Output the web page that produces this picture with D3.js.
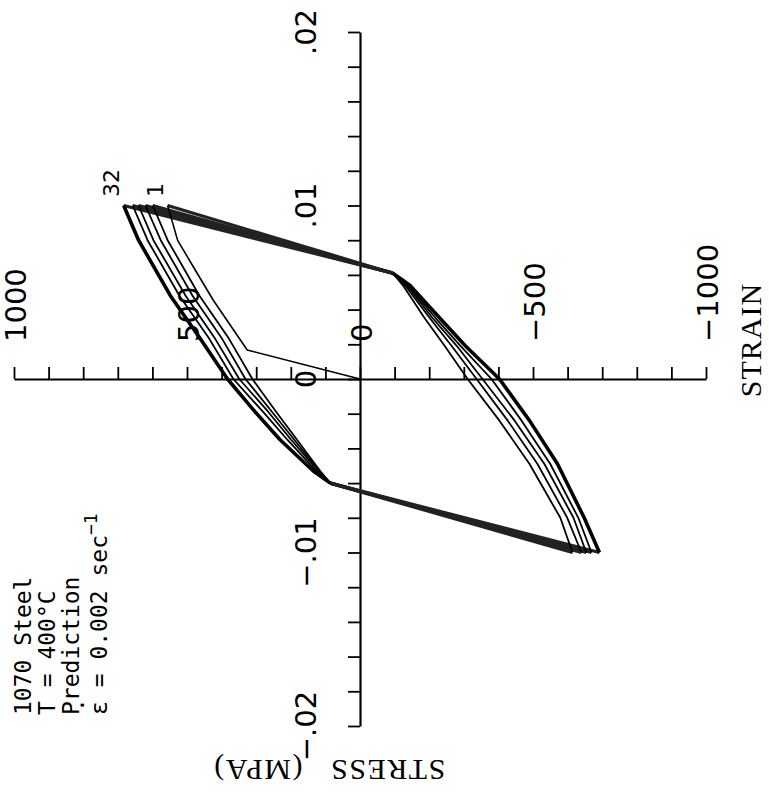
<!DOCTYPE html>
<html>
<head>
<meta charset="utf-8">
<script src="https://cdn.jsdelivr.net/npm/d3@7"></script>
<style>
  body { margin: 0; background: #fff; }
  svg { display: block; }
  .axis path, .axis line { stroke: #000; }
  .axis .domain { stroke-width: 2.2; }
  .axis .tick line { stroke-width: 1.8; }
</style>
</head>
<body>
<div id="vis"></div>
<script>
//Frame constants (the chart is drawn turned 90 degrees, like the scan)
const FRAME_WIDTH = 769;
const FRAME_HEIGHT = 792;

//Tick values and their labels
const STRAIN_TICKS = [0.02, 0.018, 0.016, 0.014, 0.012, 0.01, 0.008, 0.006, 0.004, 0.002, 0,
                      -0.002, -0.004, -0.006, -0.008, -0.01, -0.012, -0.014, -0.016, -0.018, -0.02];
const STRAIN_LABEL_VALUES = [0.02, 0.01, 0, -0.01, -0.02];
const STRAIN_LABELS = [".02", ".01", "0", "\u2212.01", "\u2212.02"];
const STRESS_TICKS = [1000, 900, 800, 700, 600, 500, 400, 300, 200, 100, 0,
                      -100, -200, -300, -400, -500, -600, -700, -800, -900, -1000];
const STRESS_LABEL_VALUES = [1000, 500, 0, -500, -1000];
const STRESS_LABELS = ["1000", "500", "0", "\u2212500", "\u22121000"];

//First loading of cycle 1 (strain, stress MPa)
const INITIAL_STRAIN = [0, 0.00167, 0.00454, 0.00644, 0.00799, 0.01];
const INITIAL_STRESS = [0, 326, 424, 481, 527, 556];

//Tension reloading branches, inner cycle first, cycle 32 last
const RELOAD_STRAIN = [-0.006, -0.0053, -0.0035, -0.0019, 0, 0.0023, 0.0048, 0.008, 0.01];
const RELOAD_STRESS = [
  [86, 115, 182, 242, 311, 378, 464, 556, 599],
  [86, 118, 190, 254, 331, 398, 484, 576, 620],
  [86, 121, 199, 265, 349, 418, 504, 597, 640],
  [86, 127, 210, 280, 366, 435, 522, 614, 657],
  [86, 135, 231, 303, 383, 461, 548, 640, 683]
];

//Compression branches, cycle 1 first, cycle 32 last
const COMP_STRAIN = [0.0061, 0.0054, 0.0035, 0.0019, 0, -0.0024, -0.0049, -0.008, -0.01];
const COMP_STRESS = [
  [-95, -124, -187, -245, -311, -403, -490, -579, -614],
  [-95, -130, -202, -265, -337, -427, -513, -599, -640],
  [-95, -135, -210, -280, -354, -447, -533, -617, -654],
  [-95, -138, -219, -291, -380, -467, -550, -631, -669],
  [-95, -144, -231, -305, -403, -490, -571, -648, -692]
];

const NOTES = ["1070 Steel", "T = 400\u00B0C", "Prediction"];

//Create frame
const FRAME = d3.select("#vis")
                  .append("svg")
                    .attr("width", FRAME_WIDTH)
                    .attr("height", FRAME_HEIGHT);

//Scales: stress runs right to left, strain runs bottom to top
const X_SCALE = d3.scaleLinear()
                    .domain([1000, -1000])
                    .range([14, 706]);
const Y_SCALE = d3.scaleLinear()
                    .domain([0.02, -0.02])
                    .range([32, 726]);

const zip = (a, b) => a.map((v, i) => [v, b[i]]);

const line = d3.line()
                 .x((d) => { return X_SCALE(d[1]); })
                 .y((d) => { return Y_SCALE(d[0]); });

//Strain axis (vertical, ticks to the left)
FRAME.append("g")
      .attr("class", "axis")
      .attr("transform", "translate(" + X_SCALE(0) + ",0)")
      .call(d3.axisLeft(Y_SCALE).tickValues(STRAIN_TICKS).tickFormat("").tickSize(12).tickSizeOuter(0));

//Stress axis (horizontal, ticks upward)
FRAME.append("g")
      .attr("class", "axis")
      .attr("transform", "translate(0," + Y_SCALE(0) + ")")
      .call(d3.axisTop(X_SCALE).tickValues(STRESS_TICKS).tickFormat("").tickSize(12).tickSizeOuter(0));

//Tick labels, turned like the rest of the scan
FRAME.append("g")
      .selectAll("text")
      .data(STRAIN_LABEL_VALUES)
      .enter()
      .append("text")
        .attr("transform", (d) => { return "translate(306," + Y_SCALE(d) + ") rotate(-90)"; })
        .attr("text-anchor", "middle")
        .attr("dy", "0.36em")
        .attr("font-family", "DejaVu Sans")
        .attr("font-size", 29)
        .text((d, i) => { return STRAIN_LABELS[i]; });

FRAME.append("g")
      .selectAll("text")
      .data(STRESS_LABEL_VALUES)
      .enter()
      .append("text")
        .attr("transform", (d) => { return "translate(" + (X_SCALE(d) + 2) + ",342) rotate(-90)"; })
        .attr("text-anchor", "start")
        .attr("dy", "0.36em")
        .attr("font-family", "DejaVu Sans")
        .attr("font-size", 29)
        .text((d, i) => { return STRESS_LABELS[i]; });

//Loops
const CURVES = FRAME.append("g")
                      .attr("fill", "none")
                      .attr("stroke", "#000")
                      .attr("stroke-linejoin", "round");

const last = RELOAD_STRESS.length - 1;

//elastic unloading from tension tips
const TENSION_TIPS = [INITIAL_STRESS[INITIAL_STRESS.length - 1]].concat(RELOAD_STRESS.map((r) => r[r.length - 1]));
TENSION_TIPS.forEach((tip, i) => {
  const k = Math.min(i, COMP_STRESS.length - 1);
  CURVES.append("path")
          .attr("d", line([[RELOAD_STRAIN[RELOAD_STRAIN.length - 1], tip], [COMP_STRAIN[0], COMP_STRESS[k][0]]]))
          .attr("stroke", "#222")
          .attr("stroke-width", 3.2);
});

//elastic unloading from compression tips
COMP_STRESS.forEach((c, i) => {
  CURVES.append("path")
          .attr("d", line([[COMP_STRAIN[COMP_STRAIN.length - 1], c[c.length - 1]], [RELOAD_STRAIN[0], RELOAD_STRESS[i][0]]]))
          .attr("stroke", "#222")
          .attr("stroke-width", 3.2);
});

CURVES.append("path")
        .attr("d", line(zip(INITIAL_STRAIN, INITIAL_STRESS)))
        .attr("stroke-width", 1.6);

RELOAD_STRESS.forEach((r, i) => {
  CURVES.append("path")
          .attr("d", line(zip(RELOAD_STRAIN, r)))
          .attr("stroke-width", i === last ? 3.6 : 1.8);
});

COMP_STRESS.forEach((c, i) => {
  CURVES.append("path")
          .attr("d", line(zip(COMP_STRAIN, c)))
          .attr("stroke-width", i === last ? 3.6 : 1.8);
});

//Cycle numbers at the tension tips
FRAME.append("text")
      .attr("transform", "translate(" + X_SCALE(RELOAD_STRESS[last][RELOAD_STRESS[last].length - 1]) + ",183) rotate(-90)")
      .attr("text-anchor", "middle")
      .attr("dy", "-0.2em")
      .attr("font-family", "DejaVu Sans")
      .attr("font-size", 22)
      .text("32");

FRAME.append("text")
      .attr("transform", "translate(" + X_SCALE(INITIAL_STRESS[INITIAL_STRESS.length - 1]) + ",190) rotate(-90)")
      .attr("text-anchor", "middle")
      .attr("dy", "-0.2em")
      .attr("font-family", "DejaVu Sans")
      .attr("font-size", 22)
      .text("1");

//Notes block
NOTES.forEach((t, i) => {
  FRAME.append("text")
        .attr("transform", "translate(" + (31 + i * 24) + ",715) rotate(-90)")
        .attr("font-family", "DejaVu Sans Mono")
        .attr("font-size", 23)
        .text(t);
});

const rate = FRAME.append("text")
                    .attr("transform", "translate(107,715) rotate(-90)")
                    .attr("font-family", "DejaVu Sans Mono")
                    .attr("font-size", 23);
rate.append("tspan").text("\u03B5 = 0.002 sec");
rate.append("tspan").attr("dy", "-0.55em").attr("font-size", 18).text("\u22121");

//rate dot over the epsilon
FRAME.append("text")
      .attr("transform", "translate(90,712) rotate(-90)")
      .attr("font-family", "DejaVu Sans Mono")
      .attr("font-size", 23)
      .text("\u00B7");

//Axis titles
FRAME.append("text")
      .attr("transform", "translate(761,340) rotate(-90)")
      .attr("text-anchor", "middle")
      .attr("font-family", "Liberation Serif")
      .attr("font-size", 30)
      .attr("letter-spacing", 1)
      .text("STRAIN");

FRAME.append("text")
      .attr("transform", "translate(329,760) rotate(180)")
      .attr("text-anchor", "middle")
      .attr("font-family", "Liberation Serif")
      .attr("font-size", 30)
      .attr("letter-spacing", 1.5)
      .attr("word-spacing", 18)
      .text("STRESS (MPA)");
</script>
</body>
</html>
